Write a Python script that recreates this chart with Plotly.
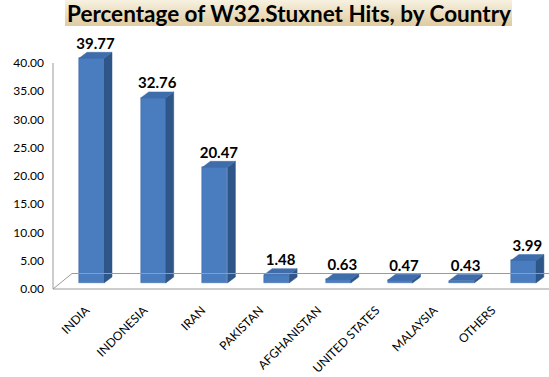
import plotly.graph_objects as go

# ---- data ----
countries = ["INDIA", "INDONESIA", "IRAN", "PAKISTAN", "AFGHANISTAN",
             "UNITED STATES", "MALAYSIA", "OTHERS"]
hits_pct = [39.77, 32.76, 20.47, 1.48, 0.63, 0.47, 0.43, 3.99]
y_ticks = [0, 5, 10, 15, 20, 25, 30, 35, 40]
title_text = "Percentage of W32.Stuxnet Hits, by Country"

# ---- geometry / style ----
W, H = 549, 377
L_PX, R_PX, T_PX, B_PX = 45, 549, 30, 295
C0_PX, STEP_PX = 91.5, 61.7          # first category centre / spacing
ZERO_PX, PPU = 283, 5.65             # pixel of bar base, pixels per unit
LABEL_SHIFT = 6 / PPU                # tick-label axis is 6px lower
BAR_W = 25 / STEP_PX
DX, DY = 8 / STEP_PX, 6 / PPU        # 3D depth offset
LAB0_PX, LABSTEP_PX = 86, 58         # category-label anchors (front edge perspective)

x_range = [(L_PX - C0_PX) / STEP_PX, (R_PX - C0_PX) / STEP_PX]
x2_range = [(L_PX - LAB0_PX) / LABSTEP_PX, (R_PX - LAB0_PX) / LABSTEP_PX]
y_range = [-(B_PX - ZERO_PX) / PPU, (ZERO_PX - T_PX) / PPU]
y2_range = [y_range[0] + LABEL_SHIFT, y_range[1] + LABEL_SHIFT]

FRONT = "#4a7cc0"
SIDE = "#2f5689"
TOP = "#3f6dab"
FONT = "Lato"

xs = list(range(len(countries)))

fig = go.Figure()

# front faces
fig.add_trace(go.Bar(x=xs, y=hits_pct, width=BAR_W, marker=dict(color=FRONT,
                     line=dict(color="#3a66a0", width=0.5)),
                     hoverinfo="skip", showlegend=False))

# side faces
sx, sy = [], []
for x, v in zip(xs, hits_pct):
    r = x + BAR_W / 2
    sx += [r, r + DX, r + DX, r, r, None]
    sy += [0, DY, v + DY, v, 0, None]
fig.add_trace(go.Scatter(x=sx, y=sy, fill="toself", fillcolor=SIDE, mode="lines",
                         line=dict(color=SIDE, width=0.5), hoverinfo="skip",
                         showlegend=False))
# top faces
tx, ty = [], []
for x, v in zip(xs, hits_pct):
    l, r = x - BAR_W / 2, x + BAR_W / 2
    tx += [l, r, r + DX, l + DX, l, None]
    ty += [v, v, v + DY, v + DY, v, None]
fig.add_trace(go.Scatter(x=tx, y=ty, fill="toself", fillcolor=TOP, mode="lines",
                         line=dict(color=TOP, width=0.5), hoverinfo="skip",
                         showlegend=False))

# value labels
fig.add_trace(go.Scatter(x=[x + DX / 2 for x in xs], y=[v + DY for v in hits_pct],
                         mode="text", text=[f"{v:.2f}" for v in hits_pct],
                         textposition="top center",
                         textfont=dict(family=FONT, size=15, color="#000000", weight="bold"),
                         hoverinfo="skip", showlegend=False, cliponaxis=False))

# floor + wall (in label-axis coordinates)
fx0 = (53 - C0_PX) / STEP_PX
bx0 = (72 - C0_PX) / STEP_PX
back_y = (289 - 273.5) / PPU
fig.add_trace(go.Scatter(
    x=[fx0, x_range[1], None, fx0, bx0, x_range[1], None, fx0, fx0],
    y=[0, 0, None, 0, back_y, back_y, None, 0, max(y_ticks)],
    mode="lines", line=dict(color="#9a9a9a", width=1), yaxis="y2",
    hoverinfo="skip", showlegend=False))

# invisible trace to carry the category-label axis
fig.add_trace(go.Scatter(x=xs, y=[0] * len(xs), xaxis="x2", mode="markers",
                         marker=dict(size=0, opacity=0), hoverinfo="skip",
                         showlegend=False))

# title box with vertical gradient (stacked strips)
box_x0, box_x1, box_y0, box_y1 = 65, 512, 0, 26
top_c = (246, 240, 224)
bot_c = (224, 205, 163)
n = 13
for k in range(n):
    t = k / (n - 1)
    c = tuple(int(top_c[j] + (bot_c[j] - top_c[j]) * t) for j in range(3))
    y0 = H - (box_y0 + (box_y1 - box_y0) * k / n)
    y1 = H - (box_y0 + (box_y1 - box_y0) * (k + 1) / n)
    fig.add_shape(type="rect", xref="paper", yref="paper",
                  x0=(box_x0 - L_PX) / (R_PX - L_PX), x1=(box_x1 - L_PX) / (R_PX - L_PX),
                  y0=(y0 - (H - B_PX)) / (B_PX - T_PX), y1=(y1 - (H - B_PX)) / (B_PX - T_PX),
                  line=dict(width=0), fillcolor=f"rgb{c}", layer="below")

fig.add_annotation(text=title_text, xref="paper", yref="paper",
                   x=((box_x0 + box_x1) / 2 - L_PX) / (R_PX - L_PX),
                   y=((H - 13) - (H - B_PX)) / (B_PX - T_PX),
                   showarrow=False, xanchor="center", yanchor="middle",
                   font=dict(family=FONT, size=22.5, color="#000000", weight="bold"))

fig.update_layout(
    width=W, height=H,
    margin=dict(l=L_PX, r=W - R_PX, t=T_PX, b=H - B_PX, pad=0, autoexpand=False),
    paper_bgcolor="white", plot_bgcolor="white",
    showlegend=False, bargap=0,
    xaxis=dict(range=x_range, showgrid=False, zeroline=False, showline=False,
               showticklabels=False, ticks="", automargin=False),
    xaxis2=dict(range=x2_range, overlaying="x", anchor="free",
                position=0, side="bottom", ticklabelstandoff=5,
                tickmode="array", tickvals=xs, ticktext=countries,
                tickangle=-45, showgrid=False, zeroline=False, showline=False,
                automargin=False, ticks="",
                tickfont=dict(family=FONT, size=12, color="#000000")),
    yaxis=dict(range=y_range, showgrid=False, zeroline=False, showline=False,
               showticklabels=False, ticks="", automargin=False),
    yaxis2=dict(range=y2_range, overlaying="y", side="left", anchor="x",
                tickmode="array", tickvals=y_ticks, automargin=False,
                ticktext=[f"{v:.2f}" for v in y_ticks],
                showgrid=False, zeroline=False, showline=False, ticks="",
                tickfont=dict(family=FONT, size=12, color="#000000")),
)

fig.write_html("out.html", config={"displayModeBar": False},
               post_script="document.body.style.margin='0';")
